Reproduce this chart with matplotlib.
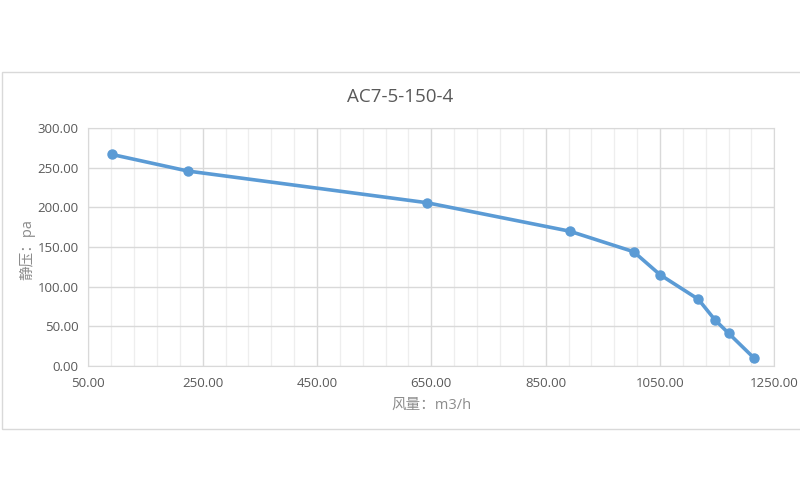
import matplotlib.pyplot as plt
from matplotlib.patches import Rectangle
from matplotlib.ticker import MultipleLocator, FormatStrFormatter

plt.rcParams['font.family'] = ['Open Sans', 'Noto Sans CJK SC', 'DejaVu Sans']

# air flow (m3/h) vs static pressure (pa)
flow = [91, 224, 642, 892, 1004, 1050, 1117, 1146, 1170, 1214]
pressure = [267, 246, 206, 170, 144, 115, 84, 58, 41, 10]

title = "AC7-5-150-4"
xlabel = "风量：m3/h"
ylabel = "静压：pa"

blue = "#5B9BD5"
txt = "#595959"

fig = plt.figure(figsize=(8, 5), dpi=100)
fig.patch.set_facecolor("white")

# chart area border (Excel style)
fig.patches.append(Rectangle((0.003, 0.142), 1.2, 0.715, transform=fig.transFigure,
                             fill=False, edgecolor="#d9d9d9", lw=1.0))

ax = fig.add_axes([0.1104, 0.2686, 0.8575, 0.4748])
ax.plot(flow, pressure, color=blue, lw=2.6, marker="o", ms=6.5,
        markerfacecolor=blue, markeredgecolor=blue, zorder=3)

ax.set_xlim(50, 1250)
ax.set_ylim(0, 300)
ax.xaxis.set_major_locator(MultipleLocator(200, offset=50))
ax.xaxis.set_minor_locator(MultipleLocator(40, offset=10))
ax.yaxis.set_major_locator(MultipleLocator(50))
ax.xaxis.set_major_formatter(FormatStrFormatter("%.2f"))
ax.yaxis.set_major_formatter(FormatStrFormatter("%.2f"))

ax.grid(which="major", color="#d9d9d9", lw=1.0)
ax.grid(which="minor", axis="x", color="#eeeeee", lw=0.9)
ax.set_axisbelow(True)
for s in ax.spines.values():
    s.set_color("#d9d9d9")
ax.tick_params(which="both", length=0, colors=txt, labelsize=9.5)
ax.tick_params(axis="x", pad=8)
ax.tick_params(axis="y", pad=7)

fig.text(0.5, 0.806, title, ha="center", va="center", fontsize=13.5, color=txt)
fig.text(0.539, 0.19, xlabel, ha="center", va="center", fontsize=10.5, color="#8c8c8c")
fig.text(0.034, 0.50, ylabel, ha="center", va="center", fontsize=10.5,
         color="#8c8c8c", rotation=90)

fig.savefig("out.png", dpi=100, facecolor="white")
